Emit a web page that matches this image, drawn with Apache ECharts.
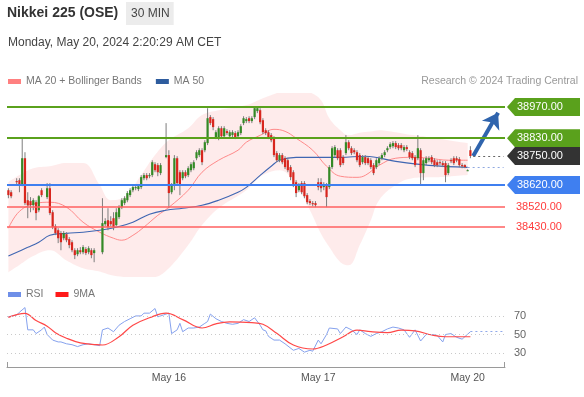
<!DOCTYPE html>
<html><head><meta charset="utf-8">
<script src="https://cdn.jsdelivr.net/npm/echarts@6/dist/echarts.min.js"></script>
<style>html,body{margin:0;padding:0;background:#fff}#c{width:584px;height:397px}</style>
</head><body><div id="c"></div>
<script>
// ---------- DATA (30-minute candles, slot index = position on the time axis; null = no bar) ----------
const opens = [38596,38587,null,38637,38641,38619,38740,38551,38547,38529,
38542,38506,38596,null,38565,38605,38497,38434,38416,38403,
38380,38398,38376,38362,38326,38308,38326,38317,38331,38317,
38326,38313,null,null,38317,38443,38461,38457,38470,38439,
38475,38520,38538,38551,38574,38596,38605,38601,38610,38650,
38664,38659,38664,38713,38709,38673,null,38745,38754,38587,
38619,38740,38677,38650,38677,38664,38686,38695,38740,38754,
38776,38776,38808,38925,38916,38835,38830,38875,38839,38862,
38839,38844,38853,38839,38853,38898,38907,38920,38907,38925,
38952,38956,38911,38866,38857,38844,38830,38763,38731,38754,
38740,38731,38700,38677,38632,38596,38628,38628,38574,38547,
38538,38538,38632,38632,38610,38619,38610,38700,38754,38776,
38776,38745,38763,38812,38785,38776,38767,38754,38722,38745,
38740,38731,38709,38700,38718,38740,38754,38776,38790,38794,
38808,38799,38799,38776,38790,38767,38763,38745,38740,38776,
38673,38718,38731,38745,38731,38722,38722,38718,38718,38673,
38731,38740,38740,38736,38709,38709,38686,38776];
const closes = [38574,38569,null,38632,38623,38740,38538,38529,38529,38551,
38493,38569,38574,null,38605,38493,38430,38403,38380,38362,
38403,38371,38349,38326,38304,38326,38317,38340,38313,38335,
38304,38326,null,null,38448,38457,38430,38443,38430,38497,
38520,38551,38560,38583,38596,38610,38610,38614,38655,38664,
38650,38664,38722,38686,38677,38709,null,38754,38583,38619,
38740,38628,38619,38677,38659,38695,38713,38722,38767,38776,
38722,38812,38920,38898,38880,38857,38875,38839,38875,38853,
38857,38857,38835,38857,38884,38920,38916,38907,38920,38965,
38965,38902,38857,38853,38835,38821,38754,38731,38754,38722,
38700,38686,38655,38619,38583,38619,38587,38569,38542,38538,
38533,38529,38610,38605,38623,38565,38700,38785,38790,38740,
38709,38718,38812,38785,38763,38767,38731,38709,38745,38718,
38718,38700,38673,38731,38740,38754,38767,38785,38803,38808,
38790,38785,38785,38790,38781,38745,38740,38709,38785,38673,
38731,38740,38740,38722,38709,38709,38718,38709,38664,38709,
38727,38718,38731,38709,38704,38700,38686,38750];
const lows = [38560,38560,null,38623,38587,38614,38529,38470,38497,38506,
38461,38497,38565,null,38556,38484,38421,38394,38358,38326,
38371,38362,38335,38317,38286,38299,38308,38308,38304,38308,
38290,38272,null,null,38308,38434,38416,38434,38416,38434,
38466,38511,38529,38542,38565,38587,38596,38592,38601,38641,
38641,38650,38655,38677,38659,38664,null,38740,38515,38578,
38596,38619,38574,38641,38650,38655,38677,38686,38731,38745,
38709,38767,38799,38889,38866,38826,38821,38830,38830,38844,
38830,38835,38826,38830,38844,38889,38898,38898,38898,38916,
38943,38893,38848,38844,38826,38812,38745,38722,38722,38713,
38691,38677,38641,38610,38565,38587,38578,38560,38533,38529,
38524,38520,38596,38587,38596,38520,38601,38691,38745,38731,
38700,38709,38754,38776,38754,38758,38722,38700,38713,38709,
38709,38691,38664,38691,38709,38731,38745,38767,38781,38785,
38781,38776,38776,38767,38772,38736,38731,38700,38731,38619,
38641,38709,38722,38713,38700,38700,38709,38700,38632,38664,
38718,38709,38722,38700,38695,38695,38682,38740];
const highs = [38605,38596,null,38650,38650,38830,38767,38587,38565,38560,
38551,38574,38605,null,38628,38628,38506,38443,38425,38412,
38412,38407,38385,38371,38335,38335,38340,38349,38340,38344,
38335,38335,null,null,38560,38470,38515,38479,38497,38515,
38529,38560,38569,38592,38605,38619,38619,38623,38664,38673,
38673,38673,38731,38722,38718,38718,null,38898,38776,38628,
38754,38749,38686,38686,38686,38704,38722,38731,38776,38785,
38785,38821,38965,38934,38925,38866,38884,38884,38884,38871,
38866,38866,38862,38866,38893,38929,38925,38929,38929,38974,
38974,38965,38920,38875,38866,38853,38839,38772,38763,38763,
38749,38740,38709,38686,38641,38628,38637,38637,38583,38556,
38547,38547,38650,38650,38632,38628,38709,38794,38799,38785,
38785,38754,38844,38821,38794,38785,38776,38763,38754,38754,
38749,38740,38718,38740,38749,38763,38776,38794,38812,38817,
38817,38808,38808,38799,38799,38776,38772,38754,38844,38785,
38740,38749,38749,38754,38740,38731,38731,38727,38727,38718,
38740,38749,38749,38745,38718,38713,38690,38794];

// Moving averages (read at sample slots)
const ma20Slot = [0,4,10,15,21,27,33,38,41,45,49,54,58,65,70,76,83,86,91,96,100,104,110,115,120,126,129,134,140,146,152,159,166];
const ma20Val  = [38425,38501,38537,38542,38520,38452,38407,38380,38371,38393,38430,38483,38519,38596,38677,38731,38776,38812,38843,38870,38861,38830,38776,38704,38659,38654,38663,38708,38740,38744,38740,38731,38731];
const ma50Slot = [0,7,11,15,21,27,33,39,45,51,57,63,70,76,83,86,91,95,98,104,110,120,129,140,152,166];
const ma50Val  = [38300,38339,38362,38393,38402,38407,38416,38429,38452,38488,38506,38515,38528,38551,38587,38609,38663,38704,38731,38744,38744,38744,38749,38726,38708,38699];
// Bollinger bands
const bandSlot  = [0,4,9,15,21,27,33,37,42,48,53,58,65,70,76,86,92,98,104,109,113,116,120,123,127,131,134,140,146,152,159,166];
const bandUpper = [38632,38664,38695,38704,38718,38718,38619,38551,38565,38664,38754,38821,38875,38934,38956,38979,39010,39037,39055,39037,39001,38920,38866,38844,38855,38860,38866,38857,38844,38834,38821,38808];
const bandLower = [38227,38260,38300,38326,38280,38245,38230,38214,38205,38200,38205,38245,38349,38439,38515,38596,38664,38686,38619,38506,38400,38340,38272,38258,38349,38461,38551,38619,38650,38654,38657,38664];

// RSI and its 9-period MA
const rsiSlot = [0,3,4,6,7,9,10,12,13,14,16,18,19,21,23,25,27,29,31,33,34,36,38,40,42,44,46,48,49,51,53,54,56,58,59,61,62,63,65,67,69,71,72,73,75,77,79,81,83,85,87,89,91,92,93,94,96,98,100,103,105,107,109,110,112,113,115,116,119,120,122,124,126,127,129,131,133,135,137,139,141,143,145,147,149,151,153,155,157,158,160,162,164,167];
const rsiVal  = [69,71,74,79,55,55,51,55,58,50,44,42,42,40,39,37,39,40,39,38,55,57,53,60,64,67,70,70,73,73,78,69,71,73,51,55,62,53,57,57,58,62,64,72,67,64,62,61,62,66,64,68,60,55,54,48,44,44,40,33,35,31,33,32,44,40,50,57,56,51,58,55,50,55,51,48,51,53,56,58,57,55,47,55,43,50,50,49,42,50,51,47,45,53];
const ma9Slot = [0,6,10,14,17,21,26,32,34,40,45,51,57,63,70,75,80,88,92,97,103,110,115,121,126,131,137,142,147,153,158,167];
const ma9Val  = [68.5,72.8,65,59,52,46,41,39,38.7,47.6,60,68,73,66,57,61.5,63.5,62.7,61,51.3,38.7,34.4,38.7,47.6,54.8,53,52,54.8,54,49.5,47.6,47.6];

// Axis / level labels
const slotCount = 180;
const xLabelSlots = [58, 112, 166];
const xLabelText  = ['May 16', 'May 17', 'May 20'];
const greenLevels = [38970, 38830];
const blueLevels  = [38620];
const redLevels   = [38520, 38430];
const lastPrice   = 38750;
const arrowTarget = 38945;
const rsiLevels   = [30, 50, 70];
const lastRsi = 53;

// ---------- CHART ----------
const GREEN = '#348a26', RED = '#d8261e', WICK = '#7d7d7d';
const C_GREEN = '#5aa11c', C_BLUE = '#3f7ff0', C_RED = '#ff6060', C_CUR = '#333333';
const FONT = 'Liberation Sans, Arial, sans-serif';

const categories = Array.from({ length: slotCount }, (_, i) => String(i));
const labelMap = {};
xLabelSlots.forEach((s, i) => labelMap[String(s)] = xLabelText[i]);
const pairs = (xs, ys) => xs.map((x, i) => [x, ys[i]]);

const candleData = [];
for (let i = 0; i < opens.length; i++) {
  if (opens[i] != null) candleData.push([i, opens[i], closes[i], lows[i], highs[i]]);
}
const bandDiff = bandUpper.map((u, i) => u - bandLower[i]);

function renderCandle(params, api) {
  const x = api.value(0), o = api.value(1), c = api.value(2), l = api.value(3), h = api.value(4);
  const pO = api.coord([x, o]), pC = api.coord([x, c]), pL = api.coord([x, l]), pH = api.coord([x, h]);
  const w = Math.max(1, api.size([1, 0])[0] * 0.8);
  const top = Math.min(pO[1], pC[1]);
  const hgt = Math.max(1, Math.abs(pO[1] - pC[1]));
  return {
    type: 'group',
    children: [
      { type: 'line', shape: { x1: pL[0], y1: pL[1], x2: pH[0], y2: pH[1] }, style: { stroke: WICK, lineWidth: 1 } },
      { type: 'rect', shape: { x: pO[0] - w / 2, y: top, width: w, height: hgt }, style: { fill: c >= o ? GREEN : RED } }
    ]
  };
}

function levelSeries(name, values, color, width) {
  return { name: name, type: 'line', xAxisIndex: 0, yAxisIndex: 0, data: [], z: 2, itemStyle: { color: color },
    markLine: { silent: true, symbol: 'none', label: { show: false }, lineStyle: { color: color, width: width, type: 'solid' },
      data: values.map(v => ({ yAxis: v })) } };
}

const option = {
  backgroundColor: '#ffffff',
  animation: false,
  textStyle: { fontFamily: FONT },
  title: [
    { text: 'Nikkei 225 (OSE)', left: 7, top: 6, padding: 0, textStyle: { fontSize: 14, fontWeight: 'bold', color: '#333', fontFamily: FONT } },
    { text: '30 MIN', left: 126, top: 2, padding: [6, 4, 5, 5], backgroundColor: '#ececec', textStyle: { fontSize: 12, fontWeight: 'normal', color: '#444', fontFamily: FONT } },
    { text: 'Monday, May 20, 2024 2:20:29 AM CET', left: 8, top: 37, padding: 0, textStyle: { fontSize: 12, fontWeight: 'normal', color: '#444', fontFamily: FONT } },
    { text: 'Research © 2024 Trading Central', right: 6, top: 76, padding: 0, textStyle: { fontSize: 10.5, fontWeight: 'normal', color: '#999', fontFamily: FONT } }
  ],
  legend: [
    { data: ['MA 20 + Bollinger Bands', 'MA 50'], left: 8, top: 76, padding: 0, icon: 'rect', itemWidth: 13, itemHeight: 5, itemGap: 14, selectedMode: false,
      textStyle: { fontSize: 10.5, color: '#777', fontFamily: FONT } },
    { data: ['RSI', '9MA'], left: 8, top: 289, padding: 0, icon: 'rect', itemWidth: 13, itemHeight: 5, itemGap: 12, selectedMode: false,
      textStyle: { fontSize: 10.5, color: '#777', fontFamily: FONT } }
  ],
  grid: [
    { left: 7, width: 498, top: 94, height: 182 },
    { left: 7, width: 498, top: 302, height: 65 }
  ],
  xAxis: [
    { type: 'category', gridIndex: 0, data: categories, boundaryGap: true, show: false },
    { type: 'category', gridIndex: 1, data: categories, boundaryGap: true,
      axisLine: { show: true, lineStyle: { color: '#9a9a9a', width: 1 } },
      axisTick: { show: false },
      axisLabel: { interval: 0, margin: 6, fontSize: 10.5, color: '#555', fontFamily: FONT, formatter: v => labelMap[v] || '' } }
  ],
  yAxis: [
    { type: 'value', gridIndex: 0, min: 38210, max: 39029, show: false },
    { type: 'value', gridIndex: 1, min: 15, max: 85, position: 'right',
      axisLine: { show: false }, axisTick: { show: false }, splitLine: { show: false },
      axisLabel: { customValues: rsiLevels, margin: 9, fontSize: 11, color: '#666', fontFamily: FONT } }
  ],
  series: [
    { name: 'bbLower', type: 'line', xAxisIndex: 0, yAxisIndex: 0, stack: 'bb', data: pairs(bandSlot, bandLower),
      smooth: 0.4, symbol: 'none', lineStyle: { opacity: 0 }, silent: true, z: 1 },
    { name: 'bbFill', type: 'line', xAxisIndex: 0, yAxisIndex: 0, stack: 'bb', data: pairs(bandSlot, bandDiff),
      smooth: 0.4, symbol: 'none', lineStyle: { opacity: 0 }, areaStyle: { color: 'rgba(250,140,140,0.25)' }, silent: true, z: 1 },
    { name: 'MA 20 + Bollinger Bands', type: 'line', xAxisIndex: 0, yAxisIndex: 0, data: pairs(ma20Slot, ma20Val),
      smooth: 0.4, symbol: 'none', itemStyle: { color: '#ff8080' }, lineStyle: { color: '#ff8a8a', width: 1 }, z: 2,
      markLine: { silent: true, symbol: ['none', 'arrow'], symbolSize: 15, label: { show: false },
        lineStyle: { color: '#2f64ad', width: 4, type: 'solid' },
        data: [[{ coord: ['168', lastPrice] }, { coord: ['177', arrowTarget] }]] } },
    levelSeries('lvlGreen', greenLevels, C_GREEN, 2),
    levelSeries('lvlBlue', blueLevels, C_BLUE, 2),
    levelSeries('lvlRed', redLevels, C_RED, 1.6),
    { name: 'MA 50', type: 'line', xAxisIndex: 0, yAxisIndex: 0, data: pairs(ma50Slot, ma50Val),
      smooth: 0.4, symbol: 'none', itemStyle: { color: '#2e5c9e' }, lineStyle: { color: '#3f66b2', width: 1.1 }, z: 2,
      markLine: { silent: true, symbol: 'none', label: { show: false },
        data: [
          [{ coord: ['168', lastPrice], lineStyle: { color: '#666', width: 1, type: [2, 3] } }, { coord: ['179', lastPrice] }],
          [{ coord: ['166', ma50Val[ma50Val.length - 1]], lineStyle: { color: '#8fa8e0', width: 1, type: [2, 3] } }, { coord: ['179', ma50Val[ma50Val.length - 1]] }]
        ] } },
    { name: 'candles', type: 'custom', xAxisIndex: 0, yAxisIndex: 0, renderItem: renderCandle,
      data: candleData, encode: { x: 0, y: [1, 2, 3, 4] }, clip: true, z: 3 },
    { name: 'RSI', type: 'line', xAxisIndex: 1, yAxisIndex: 1, data: pairs(rsiSlot, rsiVal),
      symbol: 'none', itemStyle: { color: '#6f8fe8' }, lineStyle: { color: '#86a2ee', width: 1 }, z: 3,
      markLine: { silent: true, symbol: 'none', label: { show: false },
        data: rsiLevels.map(v => ({ yAxis: v, lineStyle: { color: '#c9c9c9', width: 1, type: [1, 3] } })).concat([
          [{ coord: ['167', lastRsi], lineStyle: { color: '#8fa8ea', width: 1, type: [2, 3] } }, { coord: ['179', lastRsi] }]
        ]) } },
    { name: '9MA', type: 'line', xAxisIndex: 1, yAxisIndex: 1, data: pairs(ma9Slot, ma9Val),
      smooth: 0.4, symbol: 'none', itemStyle: { color: '#ff1a1a' }, lineStyle: { color: '#ff4848', width: 1.2 }, z: 4 }
  ]
};

const chart = echarts.init(document.getElementById('c'), null, { renderer: 'canvas' });
chart.setOption(option);

// Right-side price tags, placed through the value axis
const gfx = [];
function tag(v, color) {
  const y = chart.convertToPixel({ yAxisIndex: 0 }, v);
  gfx.push({ type: 'polygon', shape: { points: [[507, y], [515, y - 9], [580, y - 9], [580, y + 9], [515, y + 9]] }, style: { fill: color }, z: 10 });
  gfx.push({ type: 'text', x: 517, y: y, style: { text: v.toFixed(2), fill: '#ffffff', font: '11px ' + FONT, verticalAlign: 'middle' }, z: 11 });
}
greenLevels.forEach(v => tag(v, C_GREEN));
blueLevels.forEach(v => tag(v, C_BLUE));
tag(lastPrice, C_CUR);
redLevels.forEach(v => {
  const y = chart.convertToPixel({ yAxisIndex: 0 }, v);
  gfx.push({ type: 'text', x: 516, y: y, style: { text: v.toFixed(2), fill: '#ff3b3b', font: '11px ' + FONT, verticalAlign: 'middle' }, z: 10 });
});
// axis end brackets of the time axis
gfx.push({ type: 'line', shape: { x1: 7.5, y1: 362, x2: 7.5, y2: 367 }, style: { stroke: '#9a9a9a', lineWidth: 1 } });
gfx.push({ type: 'line', shape: { x1: 504.5, y1: 362, x2: 504.5, y2: 367 }, style: { stroke: '#9a9a9a', lineWidth: 1 } });
chart.setOption({ graphic: gfx });
</script>
</body></html>
